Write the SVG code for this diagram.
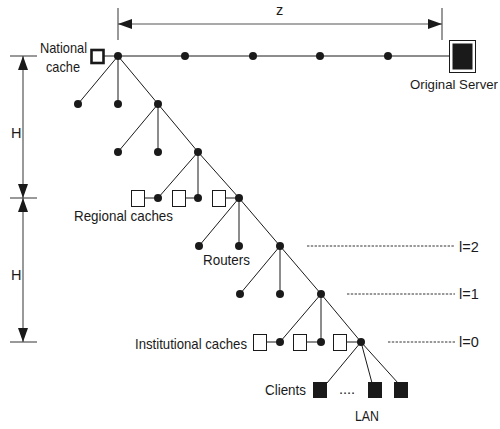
<svg xmlns="http://www.w3.org/2000/svg" width="500" height="429" viewBox="0 0 500 429">
  <defs>
    <style>
      .lbl { font-family: "Liberation Sans", Arial, sans-serif; font-size: 14.5px; fill: #1a1a1a; }
      .edge { stroke: #1a1a1a; stroke-width: 1; fill: none; }
      .dim { stroke: #555; stroke-width: 1.2; fill: none; }
      .tick { stroke: #555; stroke-width: 1.2; }
      .lvl { stroke: #333; stroke-width: 1; stroke-dasharray: 2.4 1.4; }
      .dot { fill: #1a1a1a; }
      .cache { fill: #fff; stroke: #1a1a1a; stroke-width: 1; }
      .client { fill: #1a1a1a; }
    </style>
    <marker id="arrow" viewBox="0 0 14 10" refX="14" refY="5" markerWidth="14" markerHeight="10" markerUnits="userSpaceOnUse" orient="auto-start-reverse">
      <path d="M0,0 L14,5 L0,10 Z" fill="#1a1a1a"/>
    </marker>
  </defs>

  <!-- dimension z (horizontal extent) -->
  <g id="dim-z">
    <line class="tick" x1="118" y1="8" x2="118" y2="40"/>
    <line class="tick" x1="442" y1="8" x2="442" y2="40"/>
    <line class="dim" x1="118" y1="24" x2="442" y2="24" marker-start="url(#arrow)" marker-end="url(#arrow)"/>
    <text class="lbl" x="276" y="15">z</text>
  </g>

  <!-- dimension H (two tiers) -->
  <g id="dim-h">
    <line class="tick" x1="10" y1="56" x2="37" y2="56"/>
    <line class="tick" x1="10" y1="198" x2="37" y2="198"/>
    <line class="tick" x1="10" y1="342" x2="37" y2="342"/>
    <line class="dim" x1="23" y1="56" x2="23" y2="198" marker-start="url(#arrow)" marker-end="url(#arrow)"/>
    <line class="dim" x1="23" y1="198" x2="23" y2="342" marker-start="url(#arrow)" marker-end="url(#arrow)"/>
    <text class="lbl" x="11" y="138">H</text>
    <text class="lbl" x="11" y="280">H</text>
  </g>

  <!-- connectors -->
  <g id="connectors">
    <!-- backbone to origin server -->
    <line class="edge" x1="104" y1="56" x2="449" y2="56"/>
    <!-- root -->
    <line class="edge" x1="118" y1="56" x2="78" y2="104"/>
    <line class="edge" x1="118" y1="56" x2="118" y2="104"/>
    <line class="edge" x1="118" y1="56" x2="158" y2="104"/>
    <!-- level 1 -->
    <line class="edge" x1="158" y1="104" x2="118" y2="152"/>
    <line class="edge" x1="158" y1="104" x2="158" y2="152"/>
    <line class="edge" x1="158" y1="104" x2="198" y2="152"/>
    <!-- level 2 -->
    <line class="edge" x1="198" y1="152" x2="158" y2="198"/>
    <line class="edge" x1="198" y1="152" x2="198" y2="198"/>
    <line class="edge" x1="198" y1="152" x2="239" y2="198"/>
    <!-- regional cache links -->
    <line class="edge" x1="145" y1="198" x2="158" y2="198"/>
    <line class="edge" x1="186" y1="198" x2="198" y2="198"/>
    <line class="edge" x1="226" y1="198" x2="239" y2="198"/>
    <!-- level 3 -->
    <line class="edge" x1="239" y1="198" x2="199" y2="246"/>
    <line class="edge" x1="239" y1="198" x2="239" y2="246"/>
    <line class="edge" x1="239" y1="198" x2="280" y2="246"/>
    <!-- level 4 -->
    <line class="edge" x1="280" y1="246" x2="240" y2="294"/>
    <line class="edge" x1="280" y1="246" x2="280" y2="294"/>
    <line class="edge" x1="280" y1="246" x2="321" y2="294"/>
    <!-- level 5 -->
    <line class="edge" x1="321" y1="294" x2="280" y2="342"/>
    <line class="edge" x1="321" y1="294" x2="321" y2="342"/>
    <line class="edge" x1="321" y1="294" x2="361" y2="342"/>
    <!-- institutional cache links -->
    <line class="edge" x1="267" y1="342" x2="280" y2="342"/>
    <line class="edge" x1="307" y1="342" x2="321" y2="342"/>
    <line class="edge" x1="347" y1="342" x2="361" y2="342"/>
    <!-- LAN clients -->
    <line class="edge" x1="361" y1="342" x2="327" y2="383"/>
    <line class="edge" x1="361" y1="342" x2="372" y2="383"/>
    <line class="edge" x1="361" y1="342" x2="398" y2="383"/>
    <!-- level markers -->
    <line class="lvl" x1="307" y1="246" x2="455" y2="246"/>
    <line class="lvl" x1="347" y1="294" x2="455" y2="294"/>
    <line class="lvl" x1="388" y1="342" x2="455" y2="342"/>
  </g>

  <!-- national cache -->
  <g id="national-cache">
    <rect x="91.5" y="50" width="12" height="13" fill="#fff" stroke="#1a1a1a" stroke-width="2.6"/>
    <text class="lbl" x="63.5" y="53" text-anchor="middle" textLength="47" lengthAdjust="spacingAndGlyphs">National</text>
    <text class="lbl" x="63" y="72" text-anchor="middle" textLength="34" lengthAdjust="spacingAndGlyphs">cache</text>
  </g>

  <!-- origin server -->
  <g id="original-server">
    <rect x="449.5" y="40.5" width="26" height="32" fill="#fff" stroke="#1a1a1a" stroke-width="1"/>
    <rect x="452.5" y="43.5" width="20" height="26" fill="#1a1a1a"/>
    <text class="lbl" x="410" y="89" style="font-size:13.2px">Original Server</text>
  </g>

  <!-- routers -->
  <g id="routers">
    <g id="r-root"><circle class="dot" cx="118" cy="56" r="4"/></g>
    <g id="r-z1"><circle class="dot" cx="185" cy="56" r="4"/></g>
    <g id="r-z2"><circle class="dot" cx="253" cy="56" r="4"/></g>
    <g id="r-z3"><circle class="dot" cx="320" cy="56" r="4"/></g>
    <g id="r-z4"><circle class="dot" cx="388" cy="56" r="4"/></g>
    <g id="r-1a"><circle class="dot" cx="78" cy="104" r="4"/></g>
    <g id="r-1b"><circle class="dot" cx="118" cy="104" r="4"/></g>
    <g id="r-1c"><circle class="dot" cx="158" cy="104" r="4"/></g>
    <g id="r-2a"><circle class="dot" cx="118" cy="152" r="4"/></g>
    <g id="r-2b"><circle class="dot" cx="158" cy="152" r="4"/></g>
    <g id="r-2c"><circle class="dot" cx="198" cy="152" r="4"/></g>
    <g id="r-3a"><circle class="dot" cx="158" cy="198" r="4"/></g>
    <g id="r-3b"><circle class="dot" cx="198" cy="198" r="4"/></g>
    <g id="r-3c"><circle class="dot" cx="239" cy="198" r="4"/></g>
    <g id="r-4a"><circle class="dot" cx="199" cy="246" r="4"/></g>
    <g id="r-4b"><circle class="dot" cx="239" cy="246" r="4"/></g>
    <g id="r-4c"><circle class="dot" cx="280" cy="246" r="4"/></g>
    <g id="r-5a"><circle class="dot" cx="240" cy="294" r="4"/></g>
    <g id="r-5b"><circle class="dot" cx="280" cy="294" r="4"/></g>
    <g id="r-5c"><circle class="dot" cx="321" cy="294" r="4"/></g>
    <g id="r-6a"><circle class="dot" cx="280" cy="342" r="4"/></g>
    <g id="r-6b"><circle class="dot" cx="321" cy="342" r="4"/></g>
    <g id="r-6c"><circle class="dot" cx="361" cy="342" r="4"/></g>
    <text class="lbl" x="203" y="265" textLength="47" lengthAdjust="spacingAndGlyphs">Routers</text>
  </g>

  <!-- regional caches -->
  <g id="regional-caches">
    <rect class="cache" x="131.5" y="190.5" width="13" height="16"/>
    <rect class="cache" x="172.5" y="190.5" width="13" height="16"/>
    <rect class="cache" x="212.5" y="190.5" width="13" height="16"/>
    <text class="lbl" x="74" y="221" textLength="99" lengthAdjust="spacingAndGlyphs">Regional caches</text>
  </g>

  <!-- institutional caches -->
  <g id="institutional-caches">
    <rect class="cache" x="253.5" y="334.5" width="13" height="16"/>
    <rect class="cache" x="293.5" y="334.5" width="13" height="16"/>
    <rect class="cache" x="333.5" y="334.5" width="13" height="16"/>
    <text class="lbl" x="135" y="349" textLength="112" lengthAdjust="spacingAndGlyphs">Institutional caches</text>
  </g>

  <!-- LAN clients -->
  <g id="clients">
    <rect class="client" x="313" y="382" width="14" height="16"/>
    <rect class="client" x="368" y="382" width="14" height="16"/>
    <rect class="client" x="394" y="382" width="14" height="16"/>
    <text class="lbl" x="265" y="395" textLength="41" lengthAdjust="spacingAndGlyphs">Clients</text>
    <text class="lbl" x="339" y="394">....</text>
    <text class="lbl" x="355" y="421" textLength="24" lengthAdjust="spacingAndGlyphs">LAN</text>
  </g>

  <!-- level labels -->
  <g id="levels">
    <text class="lbl" x="459" y="252">l=2</text>
    <text class="lbl" x="459" y="299">l=1</text>
    <text class="lbl" x="459" y="347">l=0</text>
  </g>
</svg>
